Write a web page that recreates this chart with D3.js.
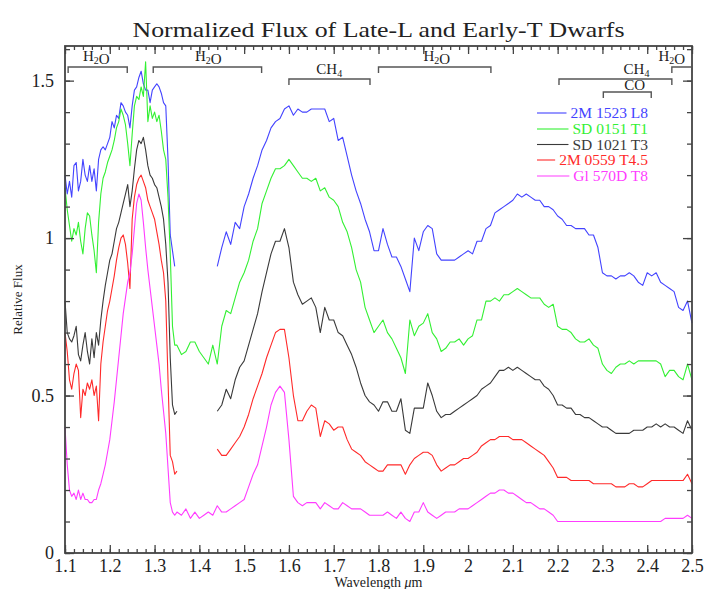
<!DOCTYPE html>
<html>
<head>
<meta charset="utf-8">
<script src="https://cdn.jsdelivr.net/npm/d3@7"></script>
<style>
  body { margin: 0; background: #fff; }
  text { font-family: "Liberation Serif", "DejaVu Serif", serif; fill: #222; }
</style>
</head>
<body>
<div id="chart"></div>
<script>
// wavelength grid (micron): 0.005 steps in the J band, 0.01 afterwards
const wavelength = [
  1.100,1.105,1.110,1.115,1.120,1.125,1.130,1.135,1.140,1.145,
  1.150,1.155,1.160,1.165,1.170,1.175,1.180,1.185,1.190,1.195,
  1.200,1.205,1.210,1.215,1.220,1.225,1.230,1.235,1.240,1.245,
  1.250,1.255,1.260,1.265,1.270,1.275,1.280,1.285,1.290,1.295,
  1.300,1.305,1.310,1.315,1.320,1.325,1.330,1.335,1.340,1.345,
  1.350,1.36,1.37,1.38,1.39,1.40,1.41,1.42,1.43,1.44,
  1.45,1.46,1.47,1.48,1.49,1.50,1.51,1.52,1.53,1.54,
  1.55,1.56,1.57,1.58,1.59,1.60,1.61,1.62,1.63,1.64,
  1.65,1.66,1.67,1.68,1.69,1.70,1.71,1.72,1.73,1.74,
  1.75,1.76,1.77,1.78,1.79,1.80,1.81,1.82,1.83,1.84,
  1.85,1.86,1.87,1.88,1.89,1.90,1.91,1.92,1.93,1.94,
  1.95,1.96,1.97,1.98,1.99,2.00,2.01,2.02,2.03,2.04,
  2.05,2.06,2.07,2.08,2.09,2.10,2.11,2.12,2.13,2.14,
  2.15,2.16,2.17,2.18,2.19,2.20,2.21,2.22,2.23,2.24,
  2.25,2.26,2.27,2.28,2.29,2.30,2.31,2.32,2.33,2.34,
  2.35,2.36,2.37,2.38,2.39,2.40,2.41,2.42,2.43,2.44,
  2.45,2.46,2.47,2.48,2.49,2.50
];

const flux2M1523 = [
  1.20,1.14,1.18,1.13,1.23,1.24,1.15,1.18,1.25,1.20,
  1.18,1.23,1.18,1.22,1.15,1.25,1.28,1.29,1.28,1.30,
  1.32,1.37,1.35,1.39,1.38,1.43,1.42,1.40,1.39,1.35,
  1.42,1.47,1.48,1.51,1.53,1.49,1.47,1.47,1.43,1.47,
  1.48,1.49,1.48,1.46,1.43,1.42,1.25,1.01,0.96,0.91,
  null,null,null,null,null,null,null,null,null,0.91,
  0.97,1.02,0.98,1.05,1.03,1.10,1.14,1.19,1.23,1.28,
  1.31,1.35,1.37,1.38,1.41,1.42,1.39,1.41,1.40,1.40,
  1.41,1.41,1.41,1.41,1.37,1.38,1.31,1.32,1.26,1.20,
  1.15,1.11,1.06,1.02,0.96,0.96,1.03,0.98,0.94,0.94,
  0.91,0.87,0.83,1.00,0.96,1.02,1.04,1.03,0.95,0.93,
  0.93,0.93,0.93,0.94,0.95,0.96,0.95,0.99,0.99,1.03,
  1.04,1.08,1.09,1.10,1.11,1.12,1.14,1.13,1.14,1.13,
  1.12,1.12,1.10,1.10,1.09,1.07,1.06,1.04,1.04,1.03,
  1.03,1.03,1.01,1.01,0.97,0.89,0.88,0.88,0.87,0.88,
  0.88,0.89,0.88,0.86,0.85,0.89,0.88,0.89,0.86,0.85,
  0.84,0.83,0.78,0.77,0.80,0.73
];

const fluxSD0151 = [
  1.16,1.09,1.04,0.99,1.03,1.01,1.05,0.99,0.95,1.03,
  1.08,1.07,1.01,0.96,0.89,1.05,1.14,1.19,1.21,1.24,
  1.26,1.28,1.31,1.35,1.37,1.41,1.39,1.36,1.30,1.23,
  1.33,1.42,1.45,1.44,1.48,1.45,1.56,1.37,1.42,1.38,
  1.40,1.37,1.39,1.34,1.28,1.25,1.13,0.95,0.72,0.66,
  0.66,0.63,0.64,0.67,0.67,0.64,0.62,0.60,0.66,0.60,
  0.72,0.77,0.76,0.81,0.86,0.89,0.93,0.99,1.03,1.11,
  1.15,1.19,1.22,1.22,1.23,1.25,1.23,1.21,1.19,1.19,
  1.18,1.19,1.15,1.16,1.13,1.12,1.10,1.05,1.02,0.97,
  0.90,0.86,0.78,0.74,0.70,0.72,0.74,0.70,0.68,0.65,
  0.62,0.57,0.74,0.69,0.72,0.73,0.76,0.70,0.68,0.64,
  0.65,0.67,0.67,0.68,0.66,0.68,0.69,0.74,0.74,0.80,
  0.80,0.81,0.80,0.82,0.82,0.83,0.84,0.83,0.82,0.81,
  0.81,0.81,0.79,0.78,0.79,0.72,0.71,0.71,0.70,0.68,
  0.67,0.67,0.68,0.66,0.65,0.60,0.58,0.57,0.59,0.60,
  0.60,0.61,0.60,0.61,0.61,0.61,0.61,0.61,0.60,0.56,
  0.58,0.58,0.56,0.55,0.60,0.55
];

const fluxSD1021 = [
  0.80,0.70,0.68,0.67,0.69,0.72,0.63,0.61,0.66,0.70,
  0.64,0.60,0.68,0.62,0.70,0.66,0.74,0.80,0.85,0.89,
  0.93,0.95,0.99,1.03,1.05,1.08,1.11,1.14,1.17,1.10,
  1.15,1.22,1.28,1.31,1.30,1.32,1.28,1.23,1.20,1.19,
  1.17,1.16,1.13,1.10,1.06,0.98,0.86,0.62,0.47,0.44,
  0.45,null,null,null,null,null,null,null,null,0.45,
  0.47,0.52,0.49,0.55,0.59,0.61,0.66,0.71,0.76,0.83,
  0.89,0.95,0.99,0.99,1.03,0.97,0.86,0.82,0.79,0.80,
  0.81,0.78,0.70,0.78,0.74,0.74,0.70,0.69,0.66,0.63,
  0.59,0.54,0.50,0.48,0.47,0.45,0.48,0.48,0.45,0.45,
  0.49,0.39,0.38,0.46,0.46,0.46,0.54,0.50,0.45,0.43,
  0.44,0.44,0.45,0.46,0.47,0.48,0.49,0.50,0.52,0.53,
  0.54,0.56,0.58,0.58,0.59,0.58,0.59,0.58,0.57,0.56,
  0.55,0.55,0.53,0.52,0.50,0.47,0.47,0.46,0.46,0.44,
  0.44,0.43,0.43,0.42,0.41,0.40,0.40,0.39,0.38,0.38,
  0.38,0.38,0.39,0.39,0.39,0.40,0.40,0.41,0.40,0.41,
  0.40,0.40,0.39,0.38,0.42,0.39
];

const flux2M0559 = [
  0.70,0.64,0.55,0.52,0.57,0.60,0.58,0.43,0.52,0.50,
  0.54,0.52,0.55,0.50,0.53,0.42,0.60,0.67,0.72,0.77,
  0.80,0.84,0.88,0.93,0.97,1.00,1.01,0.98,0.92,0.84,
  1.06,1.13,1.17,1.19,1.20,1.18,1.16,1.12,1.10,1.08,
  1.06,1.02,0.98,0.93,0.89,0.80,0.55,0.31,0.29,0.25,
  0.26,null,null,null,null,null,null,null,null,0.33,
  0.31,0.31,0.33,0.35,0.37,0.40,0.44,0.49,0.53,0.57,
  0.62,0.66,0.70,0.71,0.71,0.62,0.50,0.42,0.42,0.45,
  0.47,0.46,0.37,0.42,0.41,0.39,0.40,0.40,0.36,0.33,
  0.32,0.31,0.29,0.28,0.27,0.26,0.26,0.28,0.28,0.28,
  0.28,0.25,0.28,0.30,0.31,0.32,0.32,0.31,0.28,0.26,
  0.27,0.28,0.28,0.29,0.30,0.30,0.31,0.32,0.34,0.35,
  0.36,0.36,0.37,0.37,0.37,0.36,0.36,0.36,0.35,0.34,
  0.33,0.32,0.31,0.29,0.27,0.24,0.24,0.24,0.23,0.23,
  0.23,0.23,0.23,0.22,0.22,0.22,0.22,0.22,0.21,0.21,
  0.21,0.22,0.22,0.21,0.21,0.22,0.23,0.23,0.23,0.23,
  0.23,0.23,0.23,0.23,0.25,0.22
];

const fluxGl570D = [
  0.40,0.28,0.20,0.18,0.19,0.17,0.20,0.17,0.19,0.17,
  0.17,0.16,0.16,0.17,0.17,0.20,0.22,0.25,0.28,0.32,
  0.36,0.42,0.48,0.55,0.62,0.69,0.76,0.81,0.86,0.89,
  0.95,1.03,1.11,1.14,1.12,1.05,0.97,0.90,0.84,0.78,
  0.72,0.66,0.60,0.52,0.45,0.38,0.27,0.16,0.13,0.12,
  0.13,0.12,0.14,0.11,0.13,0.11,0.12,0.13,0.12,0.15,
  0.13,0.13,0.14,0.15,0.16,0.17,0.21,0.25,0.28,0.34,
  0.40,0.47,0.51,0.53,0.51,0.36,0.18,0.16,0.15,0.16,
  0.16,0.16,0.14,0.16,0.15,0.14,0.14,0.16,0.15,0.14,
  0.14,0.14,0.13,0.12,0.12,0.12,0.12,0.13,0.12,0.11,
  0.13,0.11,0.10,0.13,0.13,0.16,0.13,0.12,0.11,0.12,
  0.13,0.13,0.13,0.14,0.14,0.14,0.15,0.16,0.17,0.18,
  0.19,0.19,0.20,0.20,0.19,0.19,0.18,0.17,0.16,0.16,
  0.15,0.14,0.14,0.13,0.12,0.10,0.10,0.10,0.10,0.10,
  0.10,0.10,0.10,0.10,0.10,0.10,0.10,0.10,0.10,0.10,
  0.10,0.10,0.10,0.10,0.10,0.10,0.10,0.10,0.10,0.11,
  0.11,0.11,0.11,0.11,0.12,0.11
];

const seriesNames = ["2M 1523 L8", "SD 0151 T1", "SD 1021 T3", "2M 0559 T4.5", "Gl 570D T8"];
const seriesColors = ["#4343ff", "#33f033", "#3a3a3a", "#ff2a2a", "#ff3cff"];
const seriesFlux = [flux2M1523, fluxSD0151, fluxSD1021, flux2M0559, fluxGl570D];

const xTickValues = [1.1,1.2,1.3,1.4,1.5,1.6,1.7,1.8,1.9,2.0,2.1,2.2,2.3,2.4,2.5];
const xTickLabels = ["1.1","1.2","1.3","1.4","1.5","1.6","1.7","1.8","1.9","2","2.1","2.2","2.3","2.4","2.5"];
const yTickValues = [0, 0.5, 1, 1.5];
const yTickLabels = ["0", "0.5", "1", "1.5"];

// absorption band brackets
const bandNames = ["H2O", "H2O", "CH4", "H2O", "CH4", "CO", "H2O"];
const bandStart = [1.107, 1.297, 1.600, 1.800, 2.203, 2.302, 2.455];
const bandEnd   = [1.239, 1.539, 1.781, 2.051, 2.455, 2.409, 2.5];
const bandRow   = [0, 0, 1, 0, 1, 2, 0];
const bandLabelAt = [1.17, 1.42, 1.69, 1.93, 2.376, 2.372, 2.455];

const width = 707, height = 589;
const margin = { top: 46, right: 15, bottom: 36, left: 65 };

const svg = d3.select("#chart").append("svg")
  .attr("width", width)
  .attr("height", height);

svg.append("rect").attr("width", width).attr("height", height).attr("fill", "#fff");

const x = d3.scaleLinear().domain([1.1, 2.5]).range([margin.left, width - margin.right]);
const y = d3.scaleLinear().domain([0, 1.61]).range([height - margin.bottom, margin.top]);

// spectra
const line = d3.line()
  .defined(d => d[1] != null)
  .x(d => x(d[0]))
  .y(d => y(d[1]));

seriesFlux.forEach((flux, i) => {
  svg.append("path")
    .datum(wavelength.map((w, j) => [w, flux[j]]))
    .attr("fill", "none")
    .attr("stroke", seriesColors[i])
    .attr("stroke-width", 1.1)
    .attr("stroke-linejoin", "round")
    .attr("d", line);
});

// axes: inward ticks on all four sides
const axisColor = "#444";
const xMinor = d3.range(1.1, 2.5001, 0.02);
const yMinor = d3.range(0, 1.6001, 0.1);

function styleAxis(g) {
  g.select(".domain").remove();
  g.selectAll(".tick line").attr("stroke", axisColor).attr("stroke-width", 1.3);
  g.selectAll(".tick text").attr("fill", "#222").attr("font-size", 18)
    .attr("font-family", "Liberation Serif, DejaVu Serif, serif");
}

const yBottom = y.range()[0], yTop = y.range()[1];
const xLeft = x.range()[0], xRight = x.range()[1];

svg.append("g").attr("transform", `translate(0,${yBottom})`)
  .call(d3.axisBottom(x).tickValues(xMinor).tickSize(-4).tickFormat(""))
  .call(styleAxis);
svg.append("g").attr("transform", `translate(0,${yBottom})`)
  .call(d3.axisBottom(x).tickValues(xTickValues).tickSize(-8).tickPadding(6)
    .tickFormat((d, i) => xTickLabels[i]))
  .call(styleAxis);
svg.append("g").attr("transform", `translate(0,${yTop})`)
  .call(d3.axisTop(x).tickValues(xMinor).tickSize(-4).tickFormat(""))
  .call(styleAxis);
svg.append("g").attr("transform", `translate(0,${yTop})`)
  .call(d3.axisTop(x).tickValues(xTickValues).tickSize(-8).tickFormat(""))
  .call(styleAxis);

svg.append("g").attr("transform", `translate(${xLeft},0)`)
  .call(d3.axisLeft(y).tickValues(yMinor).tickSize(-5).tickFormat(""))
  .call(styleAxis);
svg.append("g").attr("transform", `translate(${xLeft},0)`)
  .call(d3.axisLeft(y).tickValues(yTickValues).tickSize(-9).tickPadding(11)
    .tickFormat((d, i) => yTickLabels[i]))
  .call(styleAxis);
svg.append("g").attr("transform", `translate(${xRight},0)`)
  .call(d3.axisRight(y).tickValues(yMinor).tickSize(-5).tickFormat(""))
  .call(styleAxis);
svg.append("g").attr("transform", `translate(${xRight},0)`)
  .call(d3.axisRight(y).tickValues(yTickValues).tickSize(-9).tickFormat(""))
  .call(styleAxis);

svg.append("rect")
  .attr("x", xLeft).attr("y", yTop)
  .attr("width", xRight - xLeft).attr("height", yBottom - yTop)
  .attr("fill", "none").attr("stroke", axisColor).attr("stroke-width", 1.8);

// title and axis labels
svg.append("text")
  .attr("x", (xLeft + xRight) / 2).attr("y", 37)
  .attr("text-anchor", "middle")
  .attr("font-size", 22)
  .attr("textLength", 492).attr("lengthAdjust", "spacingAndGlyphs")
  .text("Normalized Flux of Late-L and Early-T Dwarfs");

const xl = svg.append("text")
  .attr("x", (xLeft + xRight) / 2).attr("y", 587)
  .attr("text-anchor", "middle").attr("font-size", 14);
xl.append("tspan").text("Wavelength ");
xl.append("tspan").attr("font-style", "italic").text("μ");
xl.append("tspan").text("m");

svg.append("text")
  .attr("transform", `translate(22,${(yTop + yBottom) / 2}) rotate(-90)`)
  .attr("text-anchor", "middle").attr("font-size", 13)
  .text("Relative Flux");

// band brackets
const rowY = [67, 79, 92];
const rowLabelY = [61, 74, 89.5];
bandNames.forEach((name, i) => {
  const x1 = x(bandStart[i]), x2 = x(bandEnd[i]), yy = rowY[bandRow[i]];
  svg.append("path")
    .attr("d", `M${x1},${yy + 6}V${yy}H${x2}V${yy + 6}`)
    .attr("fill", "none").attr("stroke", "#555").attr("stroke-width", 1.4);
  const t = svg.append("text")
    .attr("x", x(bandLabelAt[i])).attr("y", rowLabelY[bandRow[i]])
    .attr("text-anchor", "middle").attr("font-size", 15);
  name.split(/(\d)/).filter(s => s.length).forEach(part => {
    if (/\d/.test(part)) {
      t.append("tspan").attr("font-size", 10).attr("dy", 3).text(part);
      t.append("tspan").attr("dy", -3).text("");
    } else {
      t.append("tspan").text(part);
    }
  });
});

// legend
const legendY = [113, 129, 144.5, 160, 176];
seriesNames.forEach((name, i) => {
  const txt = svg.append("text")
    .attr("x", 648).attr("y", legendY[i] + 5)
    .attr("text-anchor", "end")
    .attr("font-size", 15.5)
    .style("fill", seriesColors[i])
    .text(name);
  const w = txt.node().getComputedTextLength();
  svg.append("line")
    .attr("x1", 537).attr("x2", 648 - w - 4)
    .attr("y1", legendY[i]).attr("y2", legendY[i])
    .attr("stroke", seriesColors[i]).attr("stroke-width", 1.1);
});
</script>
</body>
</html>
